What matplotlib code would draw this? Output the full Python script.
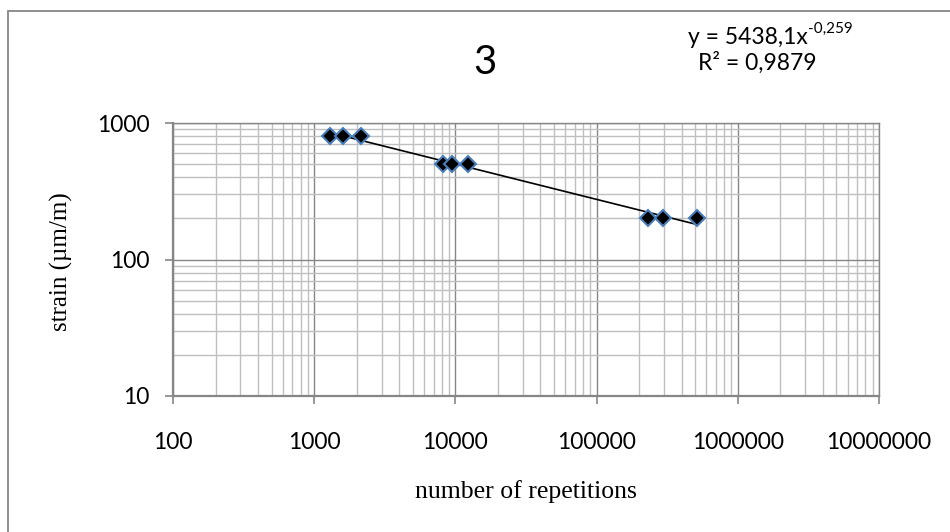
import matplotlib
matplotlib.use("Agg")
import matplotlib.pyplot as plt
from matplotlib.patches import Rectangle
from matplotlib.ticker import LogLocator, FuncFormatter, NullFormatter
import numpy as np

# podaci ocitani sa slike
ponavljanja = [1290, 1600, 2140, 8150, 9400, 12250, 230000, 294000, 511000]
deformacija = [800, 800, 800, 500, 500, 500, 200, 200, 200]

# trend: y = a * x^b
a_trend = 5438.1
b_trend = -0.259
r2 = "0,9879"

x_tickovi = [100, 1000, 10000, 100000, 1000000, 10000000]
y_tickovi = [10, 100, 1000]

W, H = 950, 532
fig = plt.figure(figsize=(W / 100, H / 100), dpi=100)

# okvir oko cijelog grafa
fig.patches.append(Rectangle((8 / W, -0.1), 1.2, (H - 11) / H + 0.1,
                             transform=fig.transFigure, fill=False,
                             edgecolor="#868686", lw=1.3))

ax = fig.add_axes([173 / W, (H - 396) / H, (879 - 173) / W, (396 - 123) / H])
ax.set_xscale("log")
ax.set_yscale("log")
ax.set_xlim(100, 1e7)
ax.set_ylim(10, 1000)

ax.xaxis.set_minor_locator(LogLocator(base=10, subs=np.arange(2, 10)))
ax.yaxis.set_minor_locator(LogLocator(base=10, subs=np.arange(2, 10)))
ax.set_xticks(x_tickovi)
ax.set_yticks(y_tickovi)
fmt = FuncFormatter(lambda v, p: f"{int(round(v))}")
ax.xaxis.set_major_formatter(fmt)
ax.yaxis.set_major_formatter(fmt)
ax.xaxis.set_minor_formatter(NullFormatter())
ax.yaxis.set_minor_formatter(NullFormatter())

ax.grid(True, which="minor", color="#bfbfbf", lw=1.0)
ax.grid(True, which="major", color="#868686", lw=1.0)
ax.set_axisbelow(True)

for s in ax.spines.values():
    s.set_color("#868686")
    s.set_linewidth(1.0)
ax.spines["left"].set_linewidth(1.6)
ax.spines["bottom"].set_linewidth(1.6)

ax.tick_params(which="major", length=6, width=1.2, color="#868686",
               labelsize=16.5, labelcolor="black")
ax.tick_params(axis="x", which="major", pad=20)
ax.tick_params(axis="y", which="major", pad=11)
ax.tick_params(which="minor", length=0)
for lab in ax.get_xticklabels() + ax.get_yticklabels():
    lab.set_family("Lato")

# trend linija
xt = np.linspace(min(ponavljanja), max(ponavljanja), 200)
ax.plot(xt, a_trend * xt ** b_trend, color="black", lw=1.2, zorder=3)

ax.plot(ponavljanja, deformacija, linestyle="none", marker="D", markersize=8.5,
        markerfacecolor="black", markeredgecolor="#4a7ebb", markeredgewidth=1.5,
        zorder=4)

fig.text(485 / W, 1 - 62 / H, "3", fontsize=29, family="Lato",
         ha="center", va="center")
# jednadzba trenda, eksponent kao zaseban manji tekst
fig.text(808 / W, 1 - 37 / H, "y = 5438,1x", fontsize=16.5, family="Lato",
         ha="right", va="center")
fig.text(808 / W, 1 - 29 / H, "-0,259", fontsize=11, family="Lato",
         ha="left", va="center")
fig.text(757 / W, 1 - 63 / H, "R² = " + r2, fontsize=16.5, family="Lato",
         ha="center", va="center")

fig.text(61 / W, 1 - 262 / H, "strain (µm/m)", rotation=90, fontsize=18,
         family="Liberation Serif", ha="center", va="center")
fig.text(526 / W, 1 - 492 / H, "number of repetitions", fontsize=18.5,
         family="Liberation Serif", ha="center", va="center")

fig.savefig("out.png", dpi=100)
